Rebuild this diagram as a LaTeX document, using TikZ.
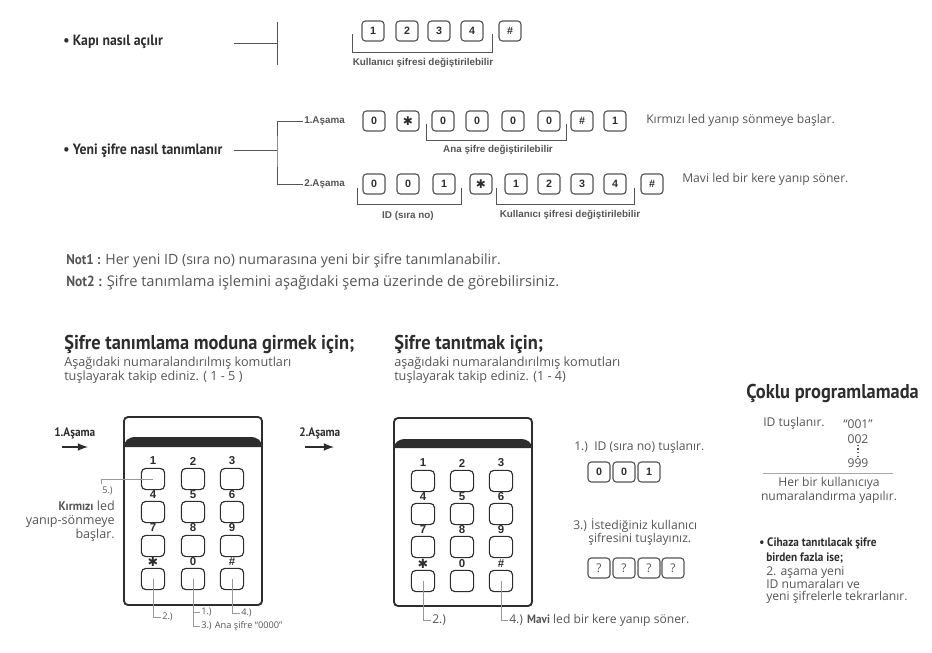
\documentclass[tikz,border=0pt]{standalone}
\usepackage{fontspec}
\setmainfont{Open Sans}
\newfontfamily\headfont[FakeStretch=0.92]{PT Sans}
\newfontfamily\arialfont{Liberation Sans}
\newfontfamily\symfont{DejaVu Sans}
\usepackage{tikz}
\definecolor{inkdark}{RGB}{45,45,45}
\definecolor{inkgray}{RGB}{85,85,85}
\tikzset{
  txt/.style={inner sep=0.75pt,text=inkgray,font=\fontsize{9.1}{10.5}\selectfont},
  subtxt/.style={txt,font=\fontsize{9.5}{10.5}\selectfont},
  small/.style={inner sep=0.75pt,text=inkgray,font=\fontsize{6.9}{9}\selectfont},
  txtb/.style={inner sep=0.75pt,text=inkdark,font=\headfont\bfseries\fontsize{9.2}{10.5}\selectfont},
  lbl/.style={inner sep=0.75pt,text=inkgray,font=\arialfont\bfseries\fontsize{7.4}{9}\selectfont},
  head/.style={inner sep=0.75pt,text=inkdark,font=\headfont\bfseries\fontsize{15}{17}\selectfont},
  topic/.style={inner sep=0.75pt,text=inkdark,font=\headfont\bfseries\fontsize{11.2}{12}\selectfont},
  keycap/.style={draw=inkgray,rounded corners=2.5pt,line width=0.85pt,minimum width=16.5pt,minimum height=15pt,inner sep=0pt,text=inkdark,font=\arialfont\bfseries\fontsize{8}{9}\selectfont},
  starcap/.style={keycap,font=\symfont\fontsize{9}{9}\selectfont},
  padkey/.style={keycap,draw=inkdark,minimum width=17.5pt,minimum height=16pt,rounded corners=3.5pt},
  querykey/.style={keycap,font=\fontsize{9}{10}\selectfont,text=inkgray},
  digit/.style={inner sep=0pt,text=inkdark,font=\arialfont\bfseries\fontsize{8.6}{9}\selectfont},
  stardigit/.style={inner sep=0pt,text=inkdark,font=\symfont\fontsize{9.5}{9.5}\selectfont},
  tree/.style={draw=inkgray,line width=0.7pt},
  brace/.style={draw=inkgray,line width=0.6pt},
  leader/.style={draw=gray!80,line width=0.35pt},
  casing/.style={draw=inkdark,line width=1.4pt,rounded corners=3pt},
}
\begin{document}
\begin{tikzpicture}[x=0.75pt,y=0.75pt,yscale=-1,xscale=1]
\useasboundingbox (0,0) rectangle (932,653);

% Text Node
\node [topic,anchor=west] (kapi) at (62,42) {\textbullet\ Kapı nasıl açılır};
\node [topic,anchor=west] (yeni) at (62,151) {\textbullet\ Yeni şifre nasıl tanımlanır};
\node [lbl,anchor=west] (asamaA) at (303,121) {1.Aşama};
\node [lbl,anchor=west] (asamaB) at (303,184) {2.Aşama};

%Straight Lines
\coordinate (kapiOut) at (234,43);
\coordinate (kapiJ) at (277,43);
\coordinate (yeniOut) at (234,150);
\coordinate (yeniJ) at (277,150);
\draw [tree] (kapiOut) -- (kapiJ);
\draw [tree] (277,22) -- (277,65);
\draw [tree] (yeniOut) -- (yeniJ);
\draw [tree] (asamaA.west) -| (yeniJ) |- (asamaB.west);

%Shape: first row of keys
\node [keycap] (ka1) at (373,31) {1};
\node [keycap] (ka2) at (407,31) {2};
\node [keycap] (ka3) at (439,31) {3};
\node [keycap] (ka4) at (472,31) {4};
\node [keycap] (ka5) at (510,31) {\#};
\coordinate (brAl) at (352,34);
\coordinate (brAr) at (492,34);
\draw [brace] (brAl) -- ++(0,18) -| (brAr);
\node [lbl] (brAt) at (423,63) {Kullanıcı şifresi değiştirilebilir};

%Shape: second row of keys
\node [keycap] (kb1) at (374,121) {0};
\node [starcap] (kb2) at (408,121) {✱};
\node [keycap] (kb3) at (443,121) {0};
\node [keycap] (kb4) at (477,121) {0};
\node [keycap] (kb5) at (513,121) {0};
\node [keycap] (kb6) at (549,121) {0};
\node [keycap] (kb7) at (582,121) {\#};
\node [keycap] (kb8) at (615,121) {1};
\coordinate (brBl) at (426,124);
\coordinate (brBr) at (566,124);
\draw [brace] (brBl) -- ++(0,16) -| (brBr);
\node [lbl] (brBt) at (498,150) {Ana şifre değiştirilebilir};
\node [txt,anchor=west] (ledA) at (645,120) {Kırmızı led yanıp sönmeye başlar.};

%Shape: third row of keys
\node [keycap] (kc1) at (374,184) {0};
\node [keycap] (kc2) at (408,184) {0};
\node [keycap] (kc3) at (444,184) {1};
\node [starcap] (kc4) at (481,184) {✱};
\node [keycap] (kc5) at (516,184) {1};
\node [keycap] (kc6) at (549,184) {2};
\node [keycap] (kc7) at (582,184) {3};
\node [keycap] (kc8) at (615,184) {4};
\node [keycap] (kc9) at (652,184) {\#};
\coordinate (brCl) at (357,188);
\coordinate (brCr) at (461,188);
\draw [brace] (brCl) -- ++(0,16) -| (brCr);
\coordinate (brDl) at (496,188);
\coordinate (brDr) at (634,188);
\draw [brace] (brDl) -- ++(0,16) -| (brDr);
\node [lbl] (brCt) at (408,216) {ID (sıra no)};
\node [lbl] (brDt) at (570,215) {Kullanıcı şifresi değiştirilebilir};
\node [txt,anchor=west] (ledB) at (681,179) {Mavi led bir kere yanıp söner.};

% Text Node
\node [txt,anchor=west,font=\fontsize{10.6}{12}\selectfont] (notA) at (65,261) {{\headfont\bfseries Not1 :} Her yeni ID (sıra no) numarasına yeni bir şifre tanımlanabilir.};
\node [txt,anchor=west,font=\fontsize{11}{12}\selectfont] (notB) at (65,283) {{\headfont\bfseries Not2 :} Şifre tanımlama işlemini aşağıdaki şema üzerinde de görebilirsiniz.};
\node [head,anchor=west] (headA) at (63,344) {Şifre tanımlama moduna girmek için;};
\node [subtxt,anchor=north west,align=left] (subA) at (63,356) {Aşağıdaki numaralandırılmış komutları\\tuşlayarak takip ediniz. ( 1 - 5 )};
\node [head,anchor=west] (headB) at (393,344) {Şifre tanıtmak için;};
\node [subtxt,anchor=north west,align=left] (subB) at (393,356) {aşağıdaki numaralandırılmış komutları\\tuşlayarak takip ediniz. (1 - 4)};

%Shape: arrows between the stages
\node [txtb,anchor=west] (stageA) at (53,433) {1.Aşama};
\node [txtb,anchor=west] (stageB) at (298,433) {2.Aşama};
\coordinate (arrAs) at (62,447);
\coordinate (arrAe) at (88,447);
\coordinate (arrBs) at (305,447);
\coordinate (arrBe) at (334,447);
\draw [-latex,line width=1.6pt,inkdark] (arrAs) -- (arrAe);
\draw [-latex,line width=1.6pt,inkdark] (arrBs) -- (arrBe);

%Shape: first keypad
\draw [casing] (124,417) rectangle (262,605);
\fill [inkdark] (124,447) .. controls (124,441) and (128,437) .. (136,437) -- (250,437) .. controls (258,437) and (262,441) .. (262,447) -- cycle;
\node [padkey] (pa1) at (153,479) {};
\node [padkey] (pa2) at (193,479) {};
\node [padkey] (pa3) at (232,479) {};
\node [padkey] (pa4) at (153,512) {};
\node [padkey] (pa5) at (193,512) {};
\node [padkey] (pa6) at (232,512) {};
\node [padkey] (pa7) at (153,546) {};
\node [padkey] (pa8) at (193,546) {};
\node [padkey] (pa9) at (232,546) {};
\node [padkey] (pa10) at (153,579) {};
\node [padkey] (pa11) at (193,579) {};
\node [padkey] (pa12) at (232,579) {};
\node [digit] (da1) at (153,461) {1};
\node [digit] (da2) at (193,461) {2};
\node [digit] (da3) at (232,461) {3};
\node [digit] (da4) at (153,495) {4};
\node [digit] (da5) at (193,495) {5};
\node [digit] (da6) at (232,495) {6};
\node [digit] (da7) at (153,528) {7};
\node [digit] (da8) at (193,528) {8};
\node [digit] (da9) at (232,528) {9};
\node [stardigit] (da10) at (153,562) {✱};
\node [digit] (da11) at (193,562) {0};
\node [digit] (da12) at (232,562) {\#};

% Text Node
\node [small,anchor=west] (noteE) at (101,491) {5.)};
\node [txt,anchor=north east,align=right,font=\fontsize{9.4}{10.5}\selectfont] (noteEt) at (116,500) {{\headfont\bfseries Kırmızı} led\\yanıp-sönmeye\\başlar.};
\node [small,anchor=west] (noteB) at (161,617) {2.)};
\node [small,anchor=west] (noteA) at (200,612) {1.)};
\node [small,anchor=west] (noteC) at (200,626) {3.) Ana şifre ``0000''};
\node [small,anchor=west] (noteD) at (240,613) {4.)};

%Straight Lines
\coordinate (noteEc) at (101,484);
\draw [leader] (pa1.center) -| (noteEc);
\draw [leader] (pa10.center) |- (noteB.west);
\draw [leader] (pa11.center) |- (noteA.west);
\draw [leader] (pa11.center) |- (noteC.west);
\draw [leader] (pa12.center) |- (noteD.west);

%Shape: second keypad
\draw [casing] (394,418) rectangle (532,606);
\fill [inkdark] (394,448) .. controls (394,443) and (398,439) .. (406,439) -- (520,439) .. controls (528,439) and (532,443) .. (532,448) -- cycle;
\node [padkey] (pb1) at (423,481) {};
\node [padkey] (pb2) at (462,481) {};
\node [padkey] (pb3) at (501,481) {};
\node [padkey] (pb4) at (423,514) {};
\node [padkey] (pb5) at (462,514) {};
\node [padkey] (pb6) at (501,514) {};
\node [padkey] (pb7) at (423,547) {};
\node [padkey] (pb8) at (462,547) {};
\node [padkey] (pb9) at (501,547) {};
\node [padkey] (pb10) at (423,581) {};
\node [padkey] (pb11) at (462,581) {};
\node [padkey] (pb12) at (501,581) {};
\node [digit] (db1) at (423,463) {1};
\node [digit] (db2) at (462,463) {2};
\node [digit] (db3) at (501,463) {3};
\node [digit] (db4) at (423,497) {4};
\node [digit] (db5) at (462,497) {5};
\node [digit] (db6) at (501,497) {6};
\node [digit] (db7) at (423,530) {7};
\node [digit] (db8) at (462,530) {8};
\node [digit] (db9) at (501,530) {9};
\node [stardigit] (db10) at (423,564) {✱};
\node [digit] (db11) at (462,564) {0};
\node [digit] (db12) at (501,564) {\#};

% Text Node
\node [txt,anchor=west] (stepB) at (431,620) {2.)};
\node [txt,anchor=west] (stepD) at (508,620) {4.) {\headfont\bfseries Mavi} led bir kere yanıp söner.};
\draw [leader] (pb10.center) |- (stepB.west);
\draw [leader] (pb12.center) |- (stepD.west);

%Shape: keys beside second keypad
\node [txt,anchor=west] (stepA) at (573,447) {1.)\ \ ID (sıra no) tuşlanır.};
\node [keycap] (kd1) at (599,472) {0};
\node [keycap] (kd2) at (624,472) {0};
\node [keycap] (kd3) at (649,472) {1};
\node [txt,anchor=west] (stepC) at (572,525) {3.) İstediğiniz kullanıcı};
\node [txt,anchor=west] (stepCb) at (587,539) {şifresini tuşlayınız.};
\node [querykey] (ke1) at (599,568) {?};
\node [querykey] (ke2) at (624,568) {?};
\node [querykey] (ke3) at (649,568) {?};
\node [querykey] (ke4) at (673,568) {?};

% Text Node
\node [head,anchor=west] (headC) at (745,393) {Çoklu programlamada};
\node [txt,anchor=west] (idTus) at (762,423) {ID tuşlanır.};
\node [txt] (idA) at (858,424) {``001''};
\node [txt] (idB) at (858,439) {002};
\node [txt] (idD) at (858,463) {999};
\draw [dotted,line width=0.8pt,inkgray] (idB.south) -- (idD.north);
\coordinate (ruleL) at (763,473);
\coordinate (ruleR) at (893,473);
\draw [draw=gray!70,line width=0.5pt] (ruleL) -- (ruleR);
\node [txt,align=center] (everyId) at (829,490) {Her bir kullanıcıya\\numaralandırma yapılır.};
\node [txtb,anchor=west] (moreA) at (758,543) {\textbullet\ Cihaza tanıtılacak şifre};
\node [txtb,anchor=west] (moreB) at (765,558) {birden fazla ise;};
\node [txt,anchor=west] (moreC) at (765,572) {2. aşama yeni};
\node [txt,anchor=west] (moreD) at (765,584) {ID numaraları ve};
\node [txt,anchor=west] (moreE) at (765,597) {yeni şifrelerle tekrarlanır.};

\end{tikzpicture}
\end{document}
